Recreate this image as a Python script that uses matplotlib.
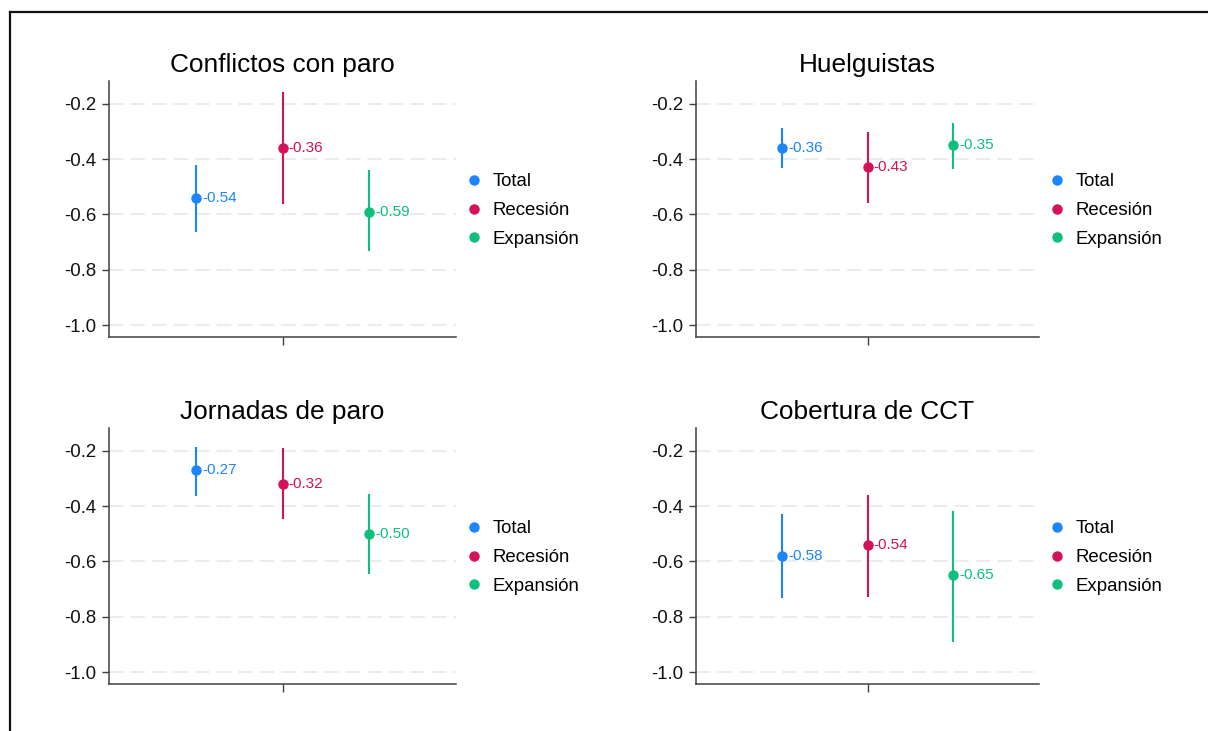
import matplotlib
matplotlib.use("Agg")
import matplotlib.pyplot as plt
from matplotlib.lines import Line2D

plt.rcParams["font.family"] = ["Liberation Sans", "DejaVu Sans"]
plt.rcParams["axes.unicode_minus"] = False
plt.rcParams["lines.scale_dashes"] = False

# Coefficients with their confidence intervals, one row per outcome
panels = ["Conflictos con paro", "Huelguistas", "Jornadas de paro", "Cobertura de CCT"]
groups = ["Total", "Recesión", "Expansión"]
colors = ["#1a85ff", "#d41159", "#0fbf7c"]

estimates = [
    [-0.54, -0.36, -0.59],
    [-0.36, -0.43, -0.35],
    [-0.27, -0.32, -0.50],
    [-0.58, -0.54, -0.65],
]
ci_low = [
    [-0.664, -0.562, -0.732],
    [-0.432, -0.559, -0.436],
    [-0.364, -0.447, -0.646],
    [-0.732, -0.727, -0.891],
]
ci_high = [
    [-0.421, -0.159, -0.439],
    [-0.289, -0.301, -0.270],
    [-0.187, -0.192, -0.357],
    [-0.430, -0.359, -0.417],
]
yticks = [-0.2, -0.4, -0.6, -0.8, -1.0]


def draw_panel(ax, title, est, lo, hi):
    for i, (g, c) in enumerate(zip(groups, colors)):
        x = i + 1
        ax.plot([x, x], [lo[i], hi[i]], color=c, lw=1.5, solid_capstyle="butt", zorder=3)
        ax.plot(x, est[i], "o", color=c, ms=6.5, zorder=4)
        ax.annotate(f"{est[i]:.2f}", (x, est[i]), xytext=(4.5, 0),
                    textcoords="offset points", va="center", ha="left",
                    color=c, fontsize=11)

    ax.set_xlim(0, 4)
    ax.set_ylim(-1.043, -0.118)
    ax.set_yticks(yticks)
    ax.set_yticklabels([f"{t:.1f}" for t in yticks])
    ax.set_xticks([2])
    ax.set_xticklabels([""])
    ax.grid(axis="y", color="#ebebeb", lw=1.3, linestyle=(0, (10.5, 5)))
    ax.set_axisbelow(True)

    for side in ("top", "right"):
        ax.spines[side].set_visible(False)
    for side in ("left", "bottom"):
        ax.spines[side].set_color("#404040")
        ax.spines[side].set_linewidth(1.1)
    ax.tick_params(axis="y", length=5, width=1, color="#404040",
                   labelsize=13.4, pad=4, labelcolor="#111111")
    ax.tick_params(axis="x", length=6, width=1, color="#404040")

    ax.set_title(title, fontsize=18.9, pad=6.5)

    handles = [Line2D([], [], marker="o", ls="", color=c, ms=6.5) for c in colors]
    ax.legend(handles, groups, loc="center left", bbox_to_anchor=(1.026, 0.494),
              frameon=False, borderaxespad=0, borderpad=0, handlelength=0.93,
              handletextpad=0.56, labelspacing=0.62, fontsize=13.4)


fig = plt.figure(figsize=(12.08, 7.31), dpi=100)

W, H = 1208, 731
boxes = [
    (109, 456, 81, 337),
    (696, 1039, 81, 337),
    (109, 456, 428, 684),
    (696, 1039, 428, 684),
]
for k, (x0, x1, y0, y1) in enumerate(boxes):
    ax = fig.add_axes([x0 / W, 1 - y1 / H, (x1 - x0) / W, (y1 - y0) / H])
    draw_panel(ax, panels[k], estimates[k], ci_low[k], ci_high[k])

# frame around the figure (right and bottom edges fall outside the canvas)
bx, by = 10 / W, 1 - 11.5 / H
fig.add_artist(Line2D([bx, 1.0], [by, by], transform=fig.transFigure, color="#111111", lw=1.6))
fig.add_artist(Line2D([bx, bx], [0.0, by], transform=fig.transFigure, color="#111111", lw=1.6))

fig.savefig("out.png", dpi=100)
